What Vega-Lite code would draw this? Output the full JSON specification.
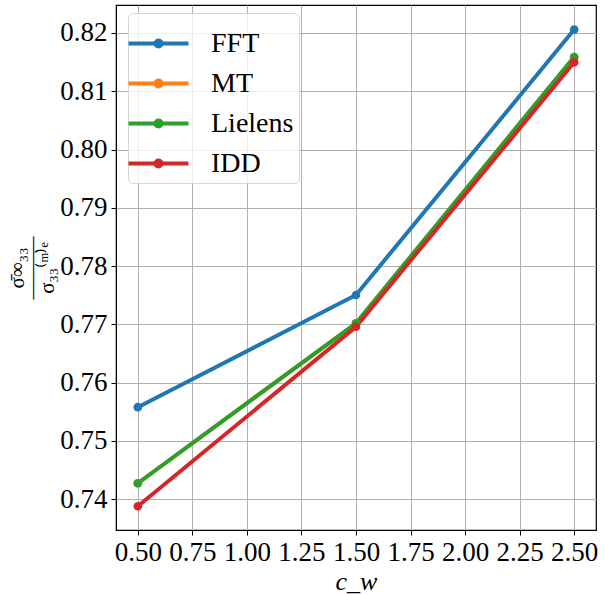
{
  "$schema": "https://vega.github.io/schema/vega-lite/v6.json",
  "autosize": {"type": "none"},
  "padding": {"left": 116, "top": 5, "right": 9, "bottom": 64},
  "width": 480,
  "height": 525,
  "background": "white",
  "data": {
    "values": [
      {"method": "FFT", "cw": 0.5, "ratio": 0.7558},
      {"method": "FFT", "cw": 1.5, "ratio": 0.77505},
      {"method": "FFT", "cw": 2.5, "ratio": 0.82058},
      {"method": "MT", "cw": 0.5, "ratio": 0.74275},
      {"method": "MT", "cw": 1.5, "ratio": 0.7702},
      {"method": "MT", "cw": 2.5, "ratio": 0.81588},
      {"method": "Lielens", "cw": 0.5, "ratio": 0.74275},
      {"method": "Lielens", "cw": 1.5, "ratio": 0.7702},
      {"method": "Lielens", "cw": 2.5, "ratio": 0.81588},
      {"method": "IDD", "cw": 0.5, "ratio": 0.7388},
      {"method": "IDD", "cw": 1.5, "ratio": 0.7696},
      {"method": "IDD", "cw": 2.5, "ratio": 0.81497}
    ]
  },
  "mark": {"type": "line", "strokeWidth": 4, "point": {"filled": true, "size": 75, "opacity": 1}},
  "encoding": {
    "x": {
      "field": "cw", "type": "quantitative",
      "scale": {"domain": [0.4, 2.6], "nice": false, "zero": false},
      "axis": {
        "values": [0.5, 0.75, 1.0, 1.25, 1.5, 1.75, 2.0, 2.25, 2.5],
        "format": ".2f",
        "title": "c_w",
        "titleFontStyle": "italic",
        "titleFontWeight": "normal",
        "titleFontSize": 26,
        "titlePadding": 3
      }
    },
    "y": {
      "field": "ratio", "type": "quantitative",
      "scale": {"domain": [0.73473, 0.8248], "nice": false, "zero": false},
      "axis": {
        "values": [0.74, 0.75, 0.76, 0.77, 0.78, 0.79, 0.8, 0.81, 0.82],
        "format": ".2f",
        "title": ["σ̄∞₃₃", "―――", "σ₃₃⁽ᵐ⁾ᵉ"],
        "titleFontSize": 21,
        "titleFontWeight": "normal",
        "titleLineHeight": 15,
        "titlePadding": 2
      }
    },
    "color": {
      "field": "method", "type": "nominal",
      "sort": ["FFT", "MT", "Lielens", "IDD"],
      "scale": {"domain": ["FFT", "MT", "Lielens", "IDD"], "range": ["#1f77b4", "#ff7f0e", "#2ca02c", "#d62728"]},
      "legend": {
        "title": null,
        "orient": "none",
        "legendX": 12,
        "legendY": 8,
        "symbolType": "M-1.29,0H1.29M-0.13,0A0.13,0.13 0 1,0 0.13,0A0.13,0.13 0 1,0 -0.13,0",
        "symbolSize": 2160,
        "symbolStrokeWidth": 4,
        "labelFontSize": 28,
        "labelOffset": 27,
        "rowPadding": 0,
        "padding": 5,
        "fillColor": "rgba(255,255,255,0.8)",
        "strokeColor": "#d5d5d5",
        "cornerRadius": 5
      }
    }
  },
  "config": {
    "font": "Liberation Serif",
    "view": {"stroke": "black", "strokeWidth": 1.2},
    "axis": {
      "labelFont": "Liberation Serif",
      "titleFont": "Liberation Serif",
      "labelFontSize": 27,
      "labelColor": "black",
      "titleColor": "black",
      "domainColor": "black",
      "tickColor": "black",
      "tickSize": 5,
      "labelPadding": 4,
      "gridColor": "#b0b0b0",
      "gridWidth": 1,
      "gridOpacity": 1
    },
    "legend": {"labelFont": "Liberation Serif", "labelColor": "black"}
  }
}
